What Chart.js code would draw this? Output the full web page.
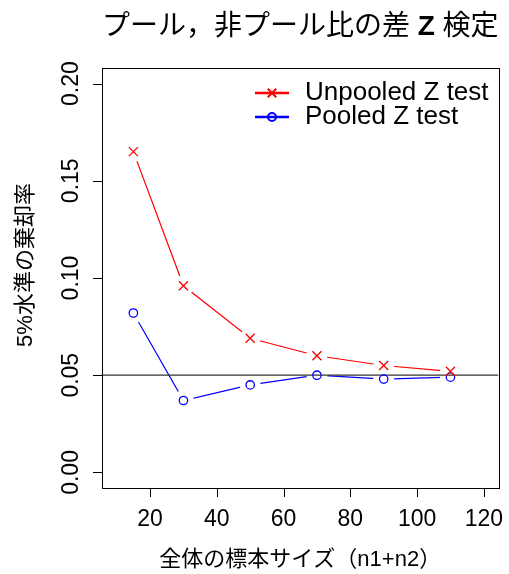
<!DOCTYPE html>
<html>
<head>
<meta charset="utf-8">
<script src="https://cdn.jsdelivr.net/npm/chart.js@4/dist/chart.umd.min.js"></script>
<style>
html,body{margin:0;padding:0;background:#fff;}
#wrap{width:509px;height:574px;}
</style>
</head>
<body>
<div id="wrap"><canvas id="c" width="509" height="574"></canvas></div>
<script>
const sampleSizes = [15, 30, 50, 70, 90, 110];
const unpooledZ = [0.165, 0.096, 0.069, 0.060, 0.055, 0.052];
const pooledZ   = [0.082, 0.037, 0.045, 0.050, 0.048, 0.049];
const xTicks = [20, 40, 60, 80, 100, 120];
const yTicks = [0.00, 0.05, 0.10, 0.15, 0.20];
const yTickLabels = ["0.00", "0.05", "0.10", "0.15", "0.20"];
const refLevel = 0.05;
const xLim = [5.6, 124.4];
const yLim = [-0.008, 0.208];
const titleParts = [["プール，非プール比の差 ", false], ["Z", true], [" 検定", false]];
const xTitle = "全体の標本サイズ（n1+n2）";
const yTitle = "5%水準の棄却率";
const seriesNames = ["Unpooled Z test", "Pooled Z test"];

const FONT = '"Liberation Sans", "Noto Sans CJK JP", sans-serif';
const pts = arr => sampleSizes.map((x, i) => ({x: x, y: arr[i]}));

const decor = {
  id: 'decor',
  afterDraw(chart) {
    const ctx = chart.ctx, a = chart.chartArea;
    const xs = chart.scales.x, ys = chart.scales.y;
    ctx.save();
    ctx.strokeStyle = '#000'; ctx.lineWidth = 1;
    ctx.strokeRect(Math.round(a.left) + 0.5, Math.round(a.top) + 0.5,
                   Math.round(a.right - a.left), Math.round(a.bottom - a.top));
    ctx.fillStyle = '#000';
    ctx.font = '23px ' + FONT;
    ctx.textAlign = 'center'; ctx.textBaseline = 'middle';
    ctx.beginPath();
    xTicks.forEach(t => {
      const px = Math.round(xs.getPixelForValue(t)) + 0.5;
      ctx.moveTo(px, a.bottom); ctx.lineTo(px, a.bottom + 9);
    });
    ctx.stroke();
    xTicks.forEach(t => ctx.fillText(String(t), xs.getPixelForValue(t), 520));
    ctx.beginPath();
    yTicks.forEach(t => {
      const py = Math.round(ys.getPixelForValue(t)) + 0.5;
      ctx.moveTo(a.left, py); ctx.lineTo(a.left - 9, py);
    });
    ctx.stroke();
    yTicks.forEach((t, i) => {
      ctx.save();
      ctx.translate(72, ys.getPixelForValue(t));
      ctx.rotate(-Math.PI / 2);
      ctx.fillText(yTickLabels[i], 0, 0);
      ctx.restore();
    });
    ctx.font = '22px ' + FONT;
    ctx.fillText(xTitle, (a.left + a.right) / 2, 560);
    ctx.save();
    ctx.translate(26, 265);
    ctx.rotate(-Math.PI / 2);
    ctx.fillText(yTitle, 0, 0);
    ctx.restore();
    const tf = b => (b ? 'bold ' : '') + '28px ' + FONT;
    let total = 0;
    titleParts.forEach(p => { ctx.font = tf(p[1]); total += ctx.measureText(p[0]).width; });
    let tx = (a.left + a.right) / 2 - total / 2;
    ctx.textAlign = 'left';
    titleParts.forEach(p => {
      ctx.font = tf(p[1]);
      ctx.fillText(p[0], tx, 27);
      tx += ctx.measureText(p[0]).width;
    });
    const leg = [
      {y: 93, color: '#ff0000', style: 'crossRot', r: 6},
      {y: 117, color: '#0000ff', style: 'circle', r: 4}
    ];
    leg.forEach((l, i) => {
      ctx.strokeStyle = l.color; ctx.lineWidth = 2.5;
      ctx.beginPath(); ctx.moveTo(255, l.y); ctx.lineTo(289, l.y); ctx.stroke();
      ctx.lineWidth = 2;
      ctx.fillStyle = 'rgba(0,0,0,0)';
      Chart.helpers.drawPoint(ctx, {pointStyle: l.style, radius: l.r, borderWidth: 2}, 272, l.y);
      ctx.fillStyle = '#000';
      ctx.font = '26px ' + FONT;
      ctx.fillText(seriesNames[i], 305, l.y);
    });
    ctx.restore();
  }
};

new Chart(document.getElementById('c'), {
  type: 'scatter',
  data: {
    datasets: [
      {label: seriesNames[0] + ' markers', data: pts(unpooledZ), order: 0, showLine: false,
       pointStyle: 'crossRot', pointRadius: 6.4, borderColor: '#ff0000', borderWidth: 1.3, backgroundColor: '#ff0000'},
      {label: seriesNames[1] + ' markers', data: pts(pooledZ), order: 0, showLine: false,
       pointStyle: 'circle', pointRadius: 4.2, borderColor: '#0000ff', borderWidth: 1.3, backgroundColor: 'rgba(0,0,0,0)'},
      {label: 'ref', data: [{x: xLim[0], y: refLevel}, {x: xLim[1], y: refLevel}], order: 1, showLine: true,
       pointRadius: 0, borderColor: '#333', borderWidth: 1.2},
      {label: 'gap1', data: pts(unpooledZ), order: 2, showLine: false,
       pointStyle: 'circle', pointRadius: 10.5, borderWidth: 0, backgroundColor: '#fff', borderColor: '#fff'},
      {label: 'gap2', data: pts(pooledZ), order: 2, showLine: false,
       pointStyle: 'circle', pointRadius: 10.5, borderWidth: 0, backgroundColor: '#fff', borderColor: '#fff'},
      {label: seriesNames[0], data: pts(unpooledZ), order: 3, showLine: true, pointRadius: 0,
       borderColor: '#ff0000', borderWidth: 1.2, tension: 0},
      {label: seriesNames[1], data: pts(pooledZ), order: 3, showLine: true, pointRadius: 0,
       borderColor: '#0000ff', borderWidth: 1.2, tension: 0}
    ]
  },
  options: {
    responsive: false,
    animation: false,
    layout: {padding: {left: 102, right: 9, top: 68, bottom: 86}},
    plugins: {legend: {display: false}, tooltip: {enabled: false}, title: {display: false}},
    scales: {
      x: {type: 'linear', min: xLim[0], max: xLim[1], display: false},
      y: {type: 'linear', min: yLim[0], max: yLim[1], display: false}
    }
  },
  plugins: [decor]
});
</script>
</body>
</html>
